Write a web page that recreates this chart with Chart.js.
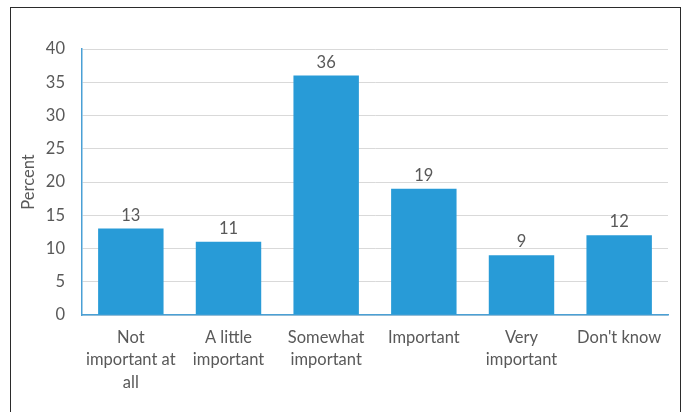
<!DOCTYPE html>
<html>
<head>
<meta charset="utf-8">
<script src="https://cdn.jsdelivr.net/npm/chart.js@4"></script>
<style>
  html, body { margin: 0; padding: 0; background: #fff; }
  #wrap { position: relative; width: 686px; height: 412px; }
  #frame {
    position: absolute; left: 10px; top: 7px; width: 669px; height: 420px;
    border: 1.5px solid #2b2b2b; pointer-events: none;
  }
</style>
</head>
<body>
<div id="wrap">
  <canvas id="chart" width="686" height="412"></canvas>
  <div id="frame"></div>
</div>
<script>
// categories and values
const categories = [
  ["Not", "important at", "all"],
  ["A little", "important"],
  ["Somewhat", "important"],
  ["Important"],
  ["Very", "important"],
  ["Don't know"]
];
const percents = [13, 11, 36, 19, 9, 12];
const yTicks = [0, 5, 10, 15, 20, 25, 30, 35, 40];

const FONT = "Lato, 'Open Sans', sans-serif";
const GREY = "#595959";

// writes each bar's value above it
const valueLabels = {
  id: "valueLabels",
  afterDatasetsDraw(chart) {
    const ctx = chart.ctx;
    const meta = chart.getDatasetMeta(0);
    ctx.save();
    ctx.font = "16.5px " + FONT;
    ctx.fillStyle = GREY;
    ctx.textAlign = "center";
    ctx.textBaseline = "bottom";
    meta.data.forEach((bar, i) => {
      ctx.fillText(String(percents[i]), bar.x, bar.y - 5);
    });
    ctx.restore();
  }
};

new Chart(document.getElementById("chart"), {
  type: "bar",
  data: {
    labels: categories,
    datasets: [{
      data: percents,
      backgroundColor: "#289bd7",
      barPercentage: 0.67,
      categoryPercentage: 1
    }]
  },
  options: {
    responsive: false,
    animation: false,
    layout: { padding: { left: 15, right: 18, top: 49, bottom: 19 } },
    plugins: {
      legend: { display: false },
      tooltip: { enabled: false }
    },
    scales: {
      x: {
        afterFit(axis) { axis.height = 78; },
        grid: { display: false, drawTicks: false },
        border: { color: "#4aa0d5", width: 1.5 },
        ticks: {
          color: GREY,
          font: { family: FONT, size: 16.5, lineHeight: 1.34 },
          maxRotation: 0,
          autoSkip: false,
          padding: 12
        }
      },
      y: {
        min: 0,
        max: 40,
        afterBuildTicks(axis) {
          axis.ticks = yTicks.map(v => ({ value: v }));
        },
        afterFit(axis) { axis.width = 67; },
        grid: { color: "#d9d9d9", drawTicks: false },
        border: { color: "#4aa0d5", width: 1.5 },
        ticks: {
          color: GREY,
          font: { family: FONT, size: 16.5 },
          padding: 17
        },
        title: {
          display: true,
          text: "Percent",
          color: GREY,
          font: { family: FONT, size: 16.5 },
          padding: { top: 4, bottom: 8 }
        }
      }
    }
  },
  plugins: [valueLabels]
});
</script>
</body>
</html>
